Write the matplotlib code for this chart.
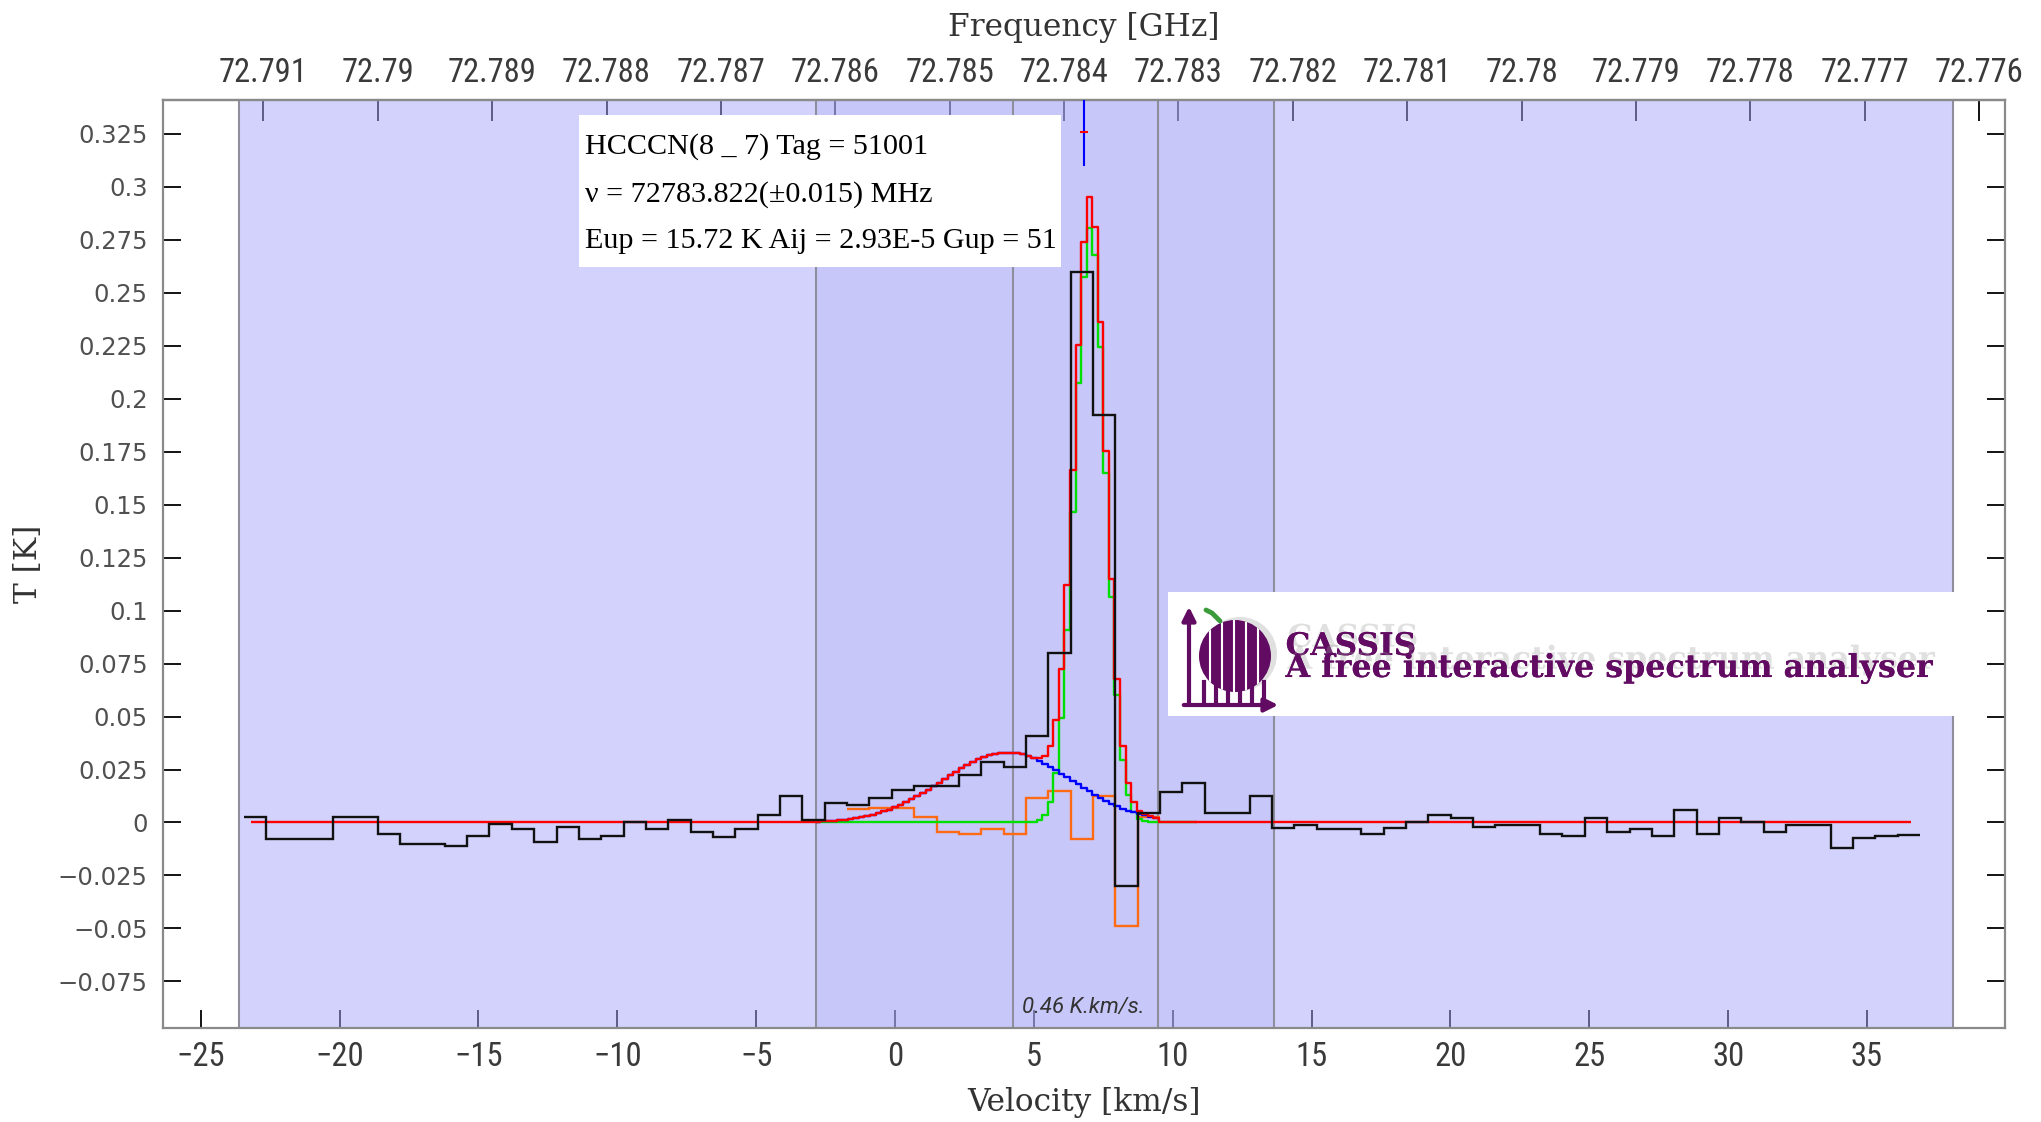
import numpy as np
import matplotlib
matplotlib.use("Agg")
import matplotlib.pyplot as plt
from matplotlib.patches import Rectangle, Circle
from matplotlib.ticker import MultipleLocator, FuncFormatter
import matplotlib.patheffects as pe
import matplotlib.transforms as mtransforms

# ------------------------------------------------------------------ data
REST_FREQ_MHZ = 72783.822      # line rest frequency
LINE_VELOCITY = 6.82           # km/s position of the line marker
C_KMS = 299792.458

info_lines = ["HCCCN(8 _ 7) Tag = 51001",
              "\u03bd = 72783.822(\u00b10.015) MHz",
              "Eup = 15.72 K Aij = 2.93E-5 Gup = 51"]
integral_label = "0.46 K.km/s."
logo_title = "CASSIS"
logo_subtitle = "A free interactive spectrum analyser"

# observed spectrum (histogram), regular channels
chan_first_edge = -23.46       # km/s
chan_width = 0.805             # km/s
obs_T = [0.0024, -0.0076, -0.0076, -0.0076, 0.0024, 0.0024, -0.0056, -0.0103, -0.0103, -0.0113,
         -0.0066, -0.0008, -0.0032, -0.0092, -0.0020, -0.0079, -0.0066, 0.0003, -0.0032, 0.0014,
         -0.0047, -0.0068, -0.0032, 0.0035, 0.0126, 0.0010, 0.0093, 0.0082, 0.0116, 0.0152,
         0.0171, 0.0171, 0.0225, 0.0286, 0.0260, 0.0410, 0.0800, 0.2596, 0.1924, -0.0299,
         0.0046, 0.0146, 0.0184, 0.0046, 0.0046, 0.0124, -0.0024, -0.0011, -0.0031, -0.0031,
         -0.0054, -0.0028, 0.0003, 0.0034, 0.0023, -0.0020, -0.0011, -0.0011, -0.0054, -0.0066,
         0.0023, -0.0046, -0.0031, -0.0062, 0.0057, -0.0054, 0.0023, 0.0003, -0.0043, -0.0011,
         -0.0011, -0.0120, -0.0074, -0.0065, -0.0057]

# residual (orange), starting at channel index 27
resid_first_chan = 27
resid_T = [0.0062, 0.0070, 0.0070, 0.0027, -0.0044, -0.0055, -0.0031, -0.0055,
           0.0117, 0.0148, -0.0078, 0.0125, -0.0487, 0.0025]

# model components sampled on a fine grid starting at -2.8 km/s, step 0.2 km/s
model_v_first = -2.8
model_step = 0.2
green_T = [0.0] * 37 + [0.00002, 0.00008, 0.00033, 0.00116, 0.00359, 0.0098, 0.0235, 0.0493,
                        0.0907, 0.1465, 0.2075, 0.2576, 0.2806, 0.2680, 0.2245, 0.1649,
                        0.1062, 0.0600, 0.0297, 0.0129, 0.0049, 0.0016, 0.0005, 0.0001] + [0.0] * 8
blue_T = [0.0004, 0.0005, 0.0007, 0.0009, 0.0011, 0.0014, 0.0017, 0.0021, 0.0025, 0.0031,
          0.0037, 0.0044, 0.0052, 0.0061, 0.0071, 0.0083, 0.0095, 0.0109, 0.0123, 0.0139,
          0.0155, 0.0171, 0.0188, 0.0206, 0.0223, 0.0240, 0.0256, 0.0271, 0.0285, 0.0298,
          0.0309, 0.0317, 0.0324, 0.0328, 0.0330, 0.0329, 0.0326, 0.0321, 0.0313, 0.0303,
          0.0292, 0.0278, 0.0264, 0.0248, 0.0231, 0.0214, 0.0197, 0.0180, 0.0163, 0.0147,
          0.0131, 0.0116, 0.0102, 0.0089, 0.0077, 0.0066, 0.0056, 0.0048, 0.0040, 0.0034,
          0.0028, 0.0023]
red_zero_span = (-23.2, 36.6)

band_full = (-23.64, 38.10)
band_fit = (-2.83, 13.63)
window_lines = [-23.64, -2.83, 4.25, 9.46, 13.63, 38.10]
marker_T = (0.3104, 0.3257)

xlim = (-26.36, 39.97)
ylim = (-0.0970, 0.3410)

# ------------------------------------------------------------------ figure
W, H = 2041, 1122
fig = plt.figure(figsize=(W / 100, H / 100), dpi=100, facecolor="white")
ax = fig.add_axes([163 / W, 1 - 1028 / H, (2005 - 163) / W, (1028 - 100) / H])
ax.set_xlim(*xlim)
ax.set_ylim(*ylim)
ax.set_axisbelow(True)
ax.set_facecolor("white")

# shaded windows
ax.axvspan(*band_full, color=(167 / 255, 167 / 255, 253 / 255), alpha=0.5, lw=0, zorder=1)
ax.axvspan(*band_fit, color=(174 / 255, 174 / 255, 241 / 255), alpha=0.3, lw=0, zorder=1.1)
for xv in window_lines:
    ax.axvline(xv, color="#8e8e9c", lw=1.5, zorder=1.5)

# observed histogram and residual
edges = chan_first_edge + chan_width * np.arange(len(obs_T) + 1)
resid_edges = edges[resid_first_chan:resid_first_chan + len(resid_T) + 1]
ax.stairs(resid_T, resid_edges, baseline=None, color="#ff6a13", lw=1.7, zorder=3)

v_green = model_v_first + model_step * np.arange(len(green_T))
v_blue = model_v_first + model_step * np.arange(len(blue_T))
green = np.array(green_T)
blue_pad = np.zeros_like(green)
blue_pad[:len(blue_T)] = blue_T
red = green + blue_pad

ax.step(v_green, green, where="mid", color="#00e000", lw=1.7, zorder=4)
ax.step(v_blue, blue_T, where="mid", color="#0000ff", lw=1.7, zorder=4.5)
ax.hlines(0, red_zero_span[0], v_green[0], color="#ff0000", lw=1.7, zorder=5)
ax.hlines(0, v_green[-1], red_zero_span[1], color="#ff0000", lw=1.7, zorder=5)
ax.step(v_green, red, where="mid", color="#ff0000", lw=1.7, zorder=5)
ax.stairs(obs_T, edges, baseline=None, color="#111111", lw=1.7, zorder=6)

# line marker
ax.plot([LINE_VELOCITY, LINE_VELOCITY], [marker_T[0], ylim[1]], color="#0000ff", lw=1.5, zorder=6)
ax.plot([LINE_VELOCITY], [marker_T[1]], marker="_", color="#ff0000", ms=6, mew=1.5, zorder=7)

# ------------------------------------------------------------------ axes styling
tick_font = ["Roboto Condensed", "Liberation Sans Narrow", "Roboto", "DejaVu Sans"]
for s in ax.spines.values():
    s.set_color("#8a8a8a")
    s.set_linewidth(1.6)

ax.xaxis.set_major_locator(MultipleLocator(5))
ax.xaxis.set_major_formatter(FuncFormatter(lambda v, p: f"{int(round(v))}".replace("-", "\u2212")))
ax.tick_params(axis="x", direction="in", length=13, width=1.3, color="black",
               labelsize=23.5, labelcolor="#3a3a3a", pad=9.5, labelfontfamily=tick_font)

def tfmt(v, p):
    v = round(v, 3)
    if abs(v) < 1e-9:
        return "0"
    return f"{v:g}".replace("-", "\u2212")

ax.yaxis.set_major_locator(MultipleLocator(0.025))
ax.yaxis.set_major_formatter(FuncFormatter(tfmt))
ax.tick_params(axis="y", direction="in", length=13, width=1.3, color="black",
               left=True, right=True, labelsize=17.5, labelcolor="#505050", pad=11,
               labelfontfamily="DejaVu Sans")

def v2f(v):
    return REST_FREQ_MHZ * (1 - (np.asarray(v) - LINE_VELOCITY) / C_KMS) / 1000.0

def f2v(f):
    return LINE_VELOCITY + C_KMS * (1 - np.asarray(f) * 1000.0 / REST_FREQ_MHZ)

secax = ax.secondary_xaxis("top", functions=(v2f, f2v))
secax.xaxis.set_major_locator(MultipleLocator(0.001))
secax.xaxis.set_major_formatter(FuncFormatter(lambda f, p: f"{round(f, 3):g}"))
secax.tick_params(axis="x", direction="in", length=15, width=1.3, color="black",
                  labelsize=23.5, labelcolor="#3a3a3a", pad=8, labelfontfamily=tick_font)
secax.spines["top"].set_color("#8a8a8a")
secax.spines["top"].set_linewidth(1.6)

label_kw = dict(fontsize=22.5, color="#333333", family=["DejaVu Serif"])
ax.set_xlabel("Velocity [km/s]", va="center", **label_kw)
ax.xaxis.set_label_coords(0.5, -0.080)
ax.set_ylabel("T [K]", va="center", ha="center", **label_kw)
ax.yaxis.set_label_coords(-0.073, 0.5)
secax.set_xlabel("Frequency [GHz]", va="center", **label_kw)
secax.xaxis.set_label_coords(0.5, 1.078, transform=ax.transAxes)

# ------------------------------------------------------------------ annotations
ax.add_patch(Rectangle((0.226, 0.820), 0.2615, 0.164, transform=ax.transAxes,
                       fc="white", ec="none", zorder=8))
for txt, yb in zip(info_lines, [0.9426, 0.8904, 0.8405]):
    ax.text(0.2291, yb, txt, transform=ax.transAxes, ha="left", va="baseline",
            fontsize=21.7, family=["Liberation Serif", "DejaVu Serif"], color="black", zorder=9)

trans = mtransforms.blended_transform_factory(ax.transData, ax.transAxes)
ax.text(4.57, 0.0165, integral_label, transform=trans, ha="left", va="baseline",
        fontsize=16, style="italic", family=["Roboto", "DejaVu Sans"], color="#333333", zorder=9)

# logo box
purple = "#620b62"
ax.add_patch(Rectangle((0.5456, 0.336), 0.4327, 0.134, transform=ax.transAxes,
                       fc="white", ec="none", zorder=8))
shadow = [pe.withSimplePatchShadow(offset=(1.5, 6), shadow_rgbFace="#9a9a9a", alpha=0.3), pe.Normal()]
ax.text(0.6094, 0.4019, logo_title, transform=ax.transAxes, ha="left", va="baseline",
        fontsize=22.5, fontweight="bold", family=["DejaVu Serif"], color=purple, zorder=9,
        path_effects=shadow)
ax.text(0.6094, 0.3782, logo_subtitle, transform=ax.transAxes, ha="left", va="baseline",
        fontsize=22.8, fontweight="bold", family=["DejaVu Serif"], color=purple, zorder=9,
        path_effects=shadow)

icon = fig.add_axes([1176 / W, 1 - 712 / H, 106 / W, 112 / H])
icon.set_xlim(1176, 1282)
icon.set_ylim(712, 600)
icon.axis("off")
icon.add_patch(Circle((1240, 654), 37, fc="#9a9a9a", alpha=0.3, ec="none"))
body = Circle((1235, 656), 36, fc=purple, ec="none")
icon.add_patch(body)
for xs in (1210, 1222, 1234, 1246, 1258):
    ln, = icon.plot([xs, xs], [615, 700], color="white", lw=1.5)
    ln.set_clip_path(body)
for xs in (1204, 1216, 1228, 1240, 1252, 1264):
    icon.plot([xs, xs], [682, 704], color=purple, lw=3)
icon.plot([1206, 1212, 1220], [610, 613, 621], color="#3c9c3c", lw=3.5, solid_capstyle="round")
icon.annotate("", xy=(1189, 604), xytext=(1189, 706),
              arrowprops=dict(arrowstyle="-|>", color=purple, lw=3, mutation_scale=20))
icon.annotate("", xy=(1281, 705), xytext=(1181, 705),
              arrowprops=dict(arrowstyle="-|>", color=purple, lw=3, mutation_scale=20))

fig.savefig("out.png", dpi=100, facecolor="white")
